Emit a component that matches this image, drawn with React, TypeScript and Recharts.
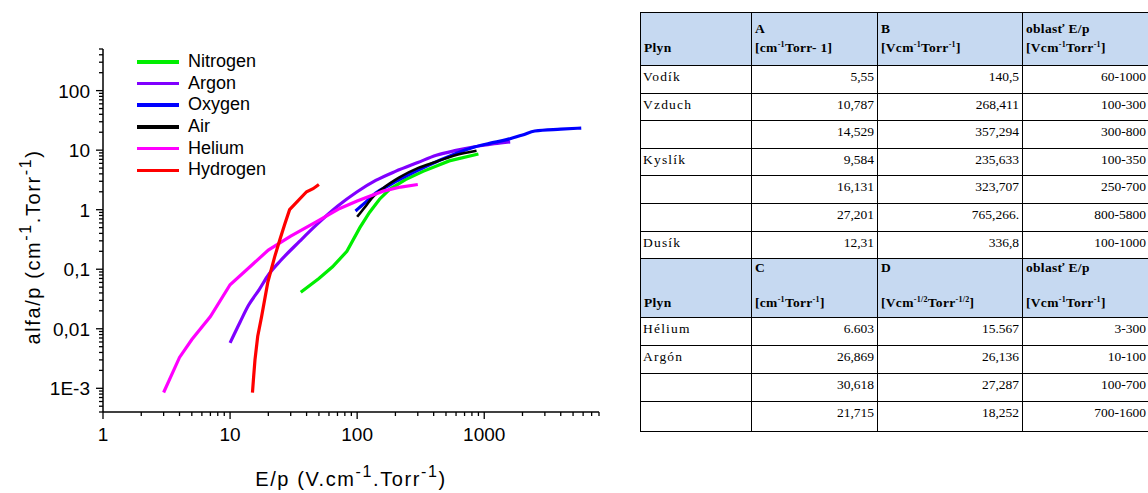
import React from 'react';
import { LineChart, Line, XAxis, YAxis, Legend } from 'recharts';

// ---------- chart data (E/p [V.cm-1.Torr-1], alfa/p [cm-1.Torr-1]) ----------
const nitrogen = [
  { x: 36, y: 0.041 }, { x: 50, y: 0.07 }, { x: 64, y: 0.11 }, { x: 83, y: 0.2 },
  { x: 105, y: 0.5 }, { x: 125, y: 0.9 }, { x: 150, y: 1.5 }, { x: 180, y: 2.2 },
  { x: 240, y: 3.2 }, { x: 330, y: 4.4 }, { x: 530, y: 6.6 }, { x: 900, y: 8.6 },
];
const argon = [
  { x: 10, y: 0.0058 }, { x: 12, y: 0.013 }, { x: 14, y: 0.025 }, { x: 17, y: 0.046 },
  { x: 20, y: 0.08 }, { x: 25, y: 0.14 }, { x: 35, y: 0.29 }, { x: 48, y: 0.56 },
  { x: 70, y: 1.14 }, { x: 100, y: 2.0 }, { x: 140, y: 3.1 }, { x: 200, y: 4.4 },
  { x: 300, y: 6.2 }, { x: 420, y: 8.2 }, { x: 600, y: 9.9 }, { x: 800, y: 11.2 },
  { x: 1200, y: 12.8 }, { x: 1600, y: 13.8 },
];
const oxygen = [
  { x: 97, y: 0.95 }, { x: 115, y: 1.3 }, { x: 140, y: 1.9 }, { x: 180, y: 2.6 },
  { x: 220, y: 3.3 }, { x: 300, y: 4.6 }, { x: 420, y: 6.4 }, { x: 600, y: 8.8 },
  { x: 800, y: 11 }, { x: 1100, y: 13 }, { x: 1500, y: 15 }, { x: 2000, y: 18 },
  { x: 2500, y: 21 }, { x: 4000, y: 22.5 }, { x: 5800, y: 23.5 },
];
const air = [
  { x: 100, y: 0.76 }, { x: 115, y: 1.1 }, { x: 130, y: 1.55 }, { x: 160, y: 2.3 },
  { x: 215, y: 3.5 }, { x: 300, y: 5.0 }, { x: 420, y: 6.4 }, { x: 600, y: 8.3 },
  { x: 870, y: 9.8 },
];
const helium = [
  { x: 3, y: 0.00085 }, { x: 4, y: 0.0033 }, { x: 5, y: 0.0066 }, { x: 7, y: 0.016 },
  { x: 10, y: 0.055 }, { x: 15, y: 0.12 }, { x: 20, y: 0.21 }, { x: 30, y: 0.36 },
  { x: 48, y: 0.63 }, { x: 73, y: 1.05 }, { x: 100, y: 1.4 }, { x: 160, y: 2.05 },
  { x: 220, y: 2.4 }, { x: 300, y: 2.65 },
];
const hydrogen = [
  { x: 15, y: 0.00085 }, { x: 15.3, y: 0.0015 }, { x: 15.7, y: 0.003 }, { x: 16.5, y: 0.0075 },
  { x: 17.7, y: 0.016 }, { x: 19.8, y: 0.06 }, { x: 22.4, y: 0.16 }, { x: 24.6, y: 0.31 },
  { x: 27, y: 0.58 }, { x: 29.4, y: 1.0 }, { x: 40, y: 2.0 }, { x: 45, y: 2.25 },
  { x: 50, y: 2.65 },
];

const seriesNames = ['Nitrogen', 'Argon', 'Oxygen', 'Air', 'Helium', 'Hydrogen'];
const seriesColors = ['#00ee00', '#8000ff', '#0000ff', '#000000', '#ff00ff', '#ff0000'];
const seriesData = [nitrogen, argon, oxygen, air, helium, hydrogen];
const seriesWidths = [3.2, 3.2, 3.2, 2.6, 3.2, 3.2];
const seriesCurve: ('linear' | 'monotone')[] = ['linear', 'monotone', 'monotone', 'monotone', 'linear', 'linear'];

// ---------- axis ticks ----------
const xMajorTicks = [1, 10, 100, 1000];
const xMajorLabels = ['1', '10', '100', '1000'];
const yMajorTicks = [0.001, 0.01, 0.1, 1, 10, 100];
const yMajorLabels = ['1E-3', '0,01', '0,1', '1', '10', '100'];
const xDomain = [1, 8000];
const yDomain = [0.0004, 500];

const xTicks: number[] = [];
[1, 10, 100, 1000].forEach((d) => {
  for (let m = 1; m <= 9; m++) {
    const v = m * d;
    if (v <= 8000) xTicks.push(v);
  }
});
const yTicks: number[] = [];
[0.0001, 0.001, 0.01, 0.1, 1, 10, 100].forEach((d) => {
  for (let m = 1; m <= 9; m++) {
    const v = m * d;
    if (v >= 0.0004 * 0.999 && v <= 500 * 1.001) yTicks.push(v);
  }
});

const majorIndex = (list: number[], v: number) =>
  list.findIndex((t) => Math.abs(t - v) / t < 1e-6);

// ---------- table data ----------
const t1Gas = ['Vodík', 'Vzduch', '', 'Kyslík', '', '', 'Dusík'];
const t1A = ['5,55', '10,787', '14,529', '9,584', '16,131', '27,201', '12,31'];
const t1B = ['140,5', '268,411', '357,294', '235,633', '323,707', '765,266.', '336,8'];
const t1Range = ['60-1000', '100-300', '300-800', '100-350', '250-700', '800-5800', '100-1000'];
const t2Gas = ['Hélium', 'Argón', '', ''];
const t2C = ['6.603', '26,869', '30,618', '21,715'];
const t2D = ['15.567', '26,136', '27,287', '18,252'];
const t2Range = ['3-300', '10-100', '100-700', '700-1600'];

const FONT = '"Liberation Sans", Arial, sans-serif';
const SERIF = '"Liberation Serif", "Times New Roman", serif';

const XTick = (props: any) => {
  const { x, y, payload } = props;
  const i = majorIndex(xMajorTicks, payload.value);
  const major = i >= 0;
  return (
    <g>
      <line x1={x} y1={y} x2={x} y2={y + (major ? 7 : 4)} stroke="#000" strokeWidth={1.3} />
      {major && (
        <text x={x} y={y + 29} textAnchor="middle" fontSize={19} fill="#000" fontFamily={FONT}>
          {xMajorLabels[i]}
        </text>
      )}
    </g>
  );
};

const YTick = (props: any) => {
  const { x, y, payload } = props;
  const i = majorIndex(yMajorTicks, payload.value);
  const major = i >= 0;
  return (
    <g>
      <line x1={x - (major ? 7 : 4)} y1={y} x2={x} y2={y} stroke="#000" strokeWidth={1.3} />
      {major && (
        <text x={x - 13} y={y + 7} textAnchor="end" fontSize={19} fill="#000" fontFamily={FONT}>
          {yMajorLabels[i]}
        </text>
      )}
    </g>
  );
};

const LegendContent = () => (
  <div style={{ fontFamily: FONT, fontSize: 18, color: '#000' }}>
    {seriesNames.map((n, i) => (
      <div key={n} style={{ display: 'flex', alignItems: 'center', height: 21.7 }}>
        <div style={{ width: 42, height: 3.5, background: seriesColors[i] }} />
        <span style={{ marginLeft: 9, lineHeight: '21.7px' }}>{n}</span>
      </div>
    ))}
  </div>
);

const VB = '1.5px solid #000';
const th: React.CSSProperties = {
  borderTop: '1px solid #000',
  borderBottom: '1px solid #000',
  borderLeft: VB,
  borderRight: VB,
  background: '#c6d9f1',
  fontWeight: 'bold',
  textAlign: 'left',
  verticalAlign: 'top',
  padding: '0 2px 0 3px',
  lineHeight: '17px',
  letterSpacing: '0.3px',
};
const td: React.CSSProperties = {
  borderTop: '1px solid #000',
  borderBottom: '1px solid #000',
  borderLeft: VB,
  borderRight: VB,
  verticalAlign: 'top',
  padding: '3px 3px 0 2px',
  lineHeight: '15px',
};
const tdL: React.CSSProperties = { ...td, textAlign: 'left', letterSpacing: '1.2px' };
const tdR: React.CSSProperties = { ...td, textAlign: 'right' };
const sup: React.CSSProperties = { fontSize: 8, lineHeight: 0, verticalAlign: '5px' };

const HeadCell = ({ top, bottom, pad, gap }: { top: string; bottom: React.ReactNode; pad: number; gap: number }) => (
  <th style={{ ...th, paddingTop: pad }}>
    <div style={{ height: 17 }}>{top}</div>
    <div style={{ marginTop: gap }}>{bottom}</div>
  </th>
);

const DataTable = () => (
  <table
    style={{
      position: 'absolute',
      left: 640,
      top: 12,
      width: 512,
      borderCollapse: 'collapse',
      tableLayout: 'fixed',
      fontFamily: SERIF,
      fontSize: 13.5,
      color: '#000',
    }}
  >
    <colgroup>
      <col style={{ width: 111 }} />
      <col style={{ width: 126 }} />
      <col style={{ width: 145 }} />
      <col style={{ width: 130 }} />
    </colgroup>
    <tbody>
      <tr style={{ height: 53 }}>
        <HeadCell pad={7} gap={2} top="" bottom="Plyn" />
        <HeadCell pad={7} gap={2} top="A" bottom={<>[cm<span style={sup}>-1</span>Torr- 1]</>} />
        <HeadCell pad={7} gap={2} top="B" bottom={<>[Vcm<span style={sup}>-1</span>Torr<span style={sup}>-1</span>]</>} />
        <HeadCell pad={7} gap={2} top="oblasť E/p" bottom={<>[Vcm<span style={sup}>-1</span>Torr<span style={sup}>-1</span>]</>} />
      </tr>
      {t1Gas.map((g, i) => (
        <tr key={'a' + i} style={{ height: 27.6 }}>
          <td style={tdL}>{g}</td>
          <td style={tdR}>{t1A[i]}</td>
          <td style={tdR}>{t1B[i]}</td>
          <td style={{ ...tdR, paddingRight: 6 }}>{t1Range[i]}</td>
        </tr>
      ))}
      <tr style={{ height: 59 }}>
        <HeadCell pad={0} gap={18} top="" bottom="Plyn" />
        <HeadCell pad={0} gap={18} top="C" bottom={<>[cm<span style={sup}>-1</span>Torr<span style={sup}>-1</span>]</>} />
        <HeadCell pad={0} gap={18} top="D" bottom={<>[Vcm<span style={sup}>-1/2</span>Torr<span style={sup}>-1/2</span>]</>} />
        <HeadCell pad={0} gap={18} top="oblasť E/p" bottom={<>[Vcm<span style={sup}>-1</span>Torr<span style={sup}>-1</span>]</>} />
      </tr>
      {t2Gas.map((g, i) => (
        <tr key={'b' + i} style={{ height: i === 3 ? 30 : 27.8 }}>
          <td style={tdL}>{g}</td>
          <td style={tdR}>{t2C[i]}</td>
          <td style={tdR}>{t2D[i]}</td>
          <td style={{ ...tdR, paddingRight: 6 }}>{t2Range[i]}</td>
        </tr>
      ))}
    </tbody>
  </table>
);

const TitleText = ({ pre }: { pre: string }) => (
  <>
    {pre}
    <tspan fontSize={16} dy={-9}>-1</tspan>
    <tspan dy={9}>.Torr</tspan>
    <tspan fontSize={16} dy={-9}>-1</tspan>
    <tspan dy={9}>)</tspan>
  </>
);

const AxisTitles = () => (
  <svg
    width={620}
    height={493}
    style={{ position: 'absolute', left: 0, top: 0, pointerEvents: 'none' }}
    fontFamily={FONT}
  >
    <text x={351} y={486} textAnchor="middle" fontSize={20} letterSpacing={1.6} fill="#000">
      <TitleText pre="E/p (V.cm" />
    </text>
    <text
      x={0}
      y={0}
      transform="translate(40,247) rotate(-90)"
      textAnchor="middle"
      fontSize={20}
      letterSpacing={1.6}
      fill="#000"
    >
      <TitleText pre="alfa/p (cm" />
    </text>
  </svg>
);

export default function App() {
  return (
    <div
      style={{
        position: 'absolute',
        left: 0,
        top: 0,
        width: 1148,
        height: 493,
        background: '#fff',
        overflow: 'hidden',
      }}
    >
      <div style={{ position: 'absolute', left: 0, top: 0 }}>
        <LineChart width={620} height={493} margin={{ top: 49, right: 21, bottom: 0, left: 0 }}>
          <XAxis
            dataKey="x"
            type="number"
            scale="log"
            domain={xDomain}
            allowDataOverflow
            ticks={xTicks}
            interval={0}
            tick={(p: any) => <XTick {...p} />}
            tickLine={false}
            tickSize={0}
            tickMargin={0}
            axisLine={{ stroke: '#000', strokeWidth: 1.5 }}
            height={81}
          />
          <YAxis
            dataKey="y"
            type="number"
            scale="log"
            domain={yDomain}
            allowDataOverflow
            ticks={yTicks}
            interval={0}
            tick={(p: any) => <YTick {...p} />}
            tickLine={false}
            tickSize={0}
            tickMargin={0}
            axisLine={{ stroke: '#000', strokeWidth: 1.5 }}
            width={103}
          />
          <Legend
            layout="vertical"
            align="center"
            verticalAlign="middle"
            content={() => <LegendContent />}
            wrapperStyle={{ left: 137, top: 51, width: 160, height: 135 }}
          />
          {seriesNames.map((n, i) => (
            <Line
              key={n}
              name={n}
              data={seriesData[i]}
              dataKey="y"
              type={seriesCurve[i]}
              stroke={seriesColors[i]}
              strokeWidth={seriesWidths[i]}
              dot={false}
              activeDot={false}
              isAnimationActive={false}
            />
          ))}
        </LineChart>
        <AxisTitles />
      </div>
      <DataTable />
    </div>
  );
}
